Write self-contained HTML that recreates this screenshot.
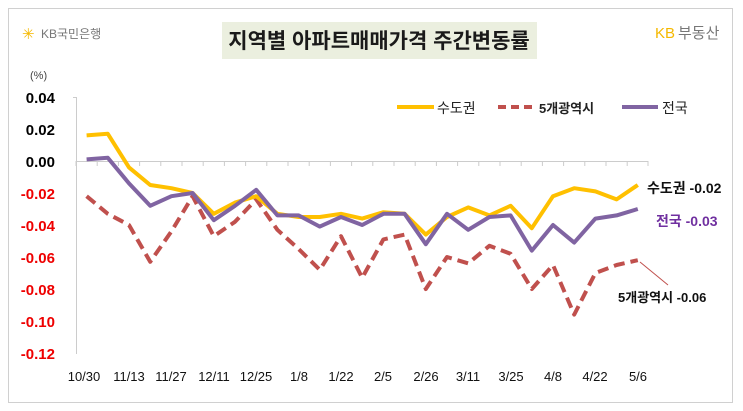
<!DOCTYPE html>
<html><head><meta charset="utf-8"><style>
body{margin:0;background:#fff;}
svg{display:block;font-family:"Liberation Sans","Noto Sans CJK KR",sans-serif;}
</style></head><body>
<svg width="743" height="411" viewBox="0 0 743 411">
<rect x="0" y="0" width="743" height="411" fill="#fff"/>
<rect x="8.5" y="8.5" width="724" height="394" fill="#fff" stroke="#d0d0d0"/>
<rect x="222" y="22" width="315" height="37" fill="#ebefdf"/>
<text x="379" y="48" text-anchor="middle" font-size="21" font-weight="bold" fill="#1a1a1a">지역별 아파트매매가격 주간변동률</text>
<text x="22" y="39" font-size="15" fill="#f5b800">✳</text>
<text x="41" y="38" font-size="12" fill="#777">KB국민은행</text>
<text x="655" y="38" font-size="15" fill="#f5b800">KB</text>
<text x="678" y="38" font-size="15" fill="#777">부동산</text>
<text x="30" y="79" font-size="11" fill="#444">(%)</text>
<g font-size="15" font-weight="bold" text-anchor="end">
<text x="55" y="103">0.04</text>
<text x="55" y="135">0.02</text>
<text x="55" y="167">0.00</text>
<g fill="#e00">
<text x="55" y="199">-0.02</text>
<text x="55" y="231">-0.04</text>
<text x="55" y="263">-0.06</text>
<text x="55" y="295">-0.08</text>
<text x="55" y="327">-0.10</text>
<text x="55" y="359">-0.12</text>
</g></g>
<line x1="76.5" y1="97" x2="76.5" y2="354" stroke="#ccc"/>
<line x1="73" y1="97.5" x2="76" y2="97.5" stroke="#ccc"/>
<line x1="76" y1="161.5" x2="648" y2="161.5" stroke="#ccc"/>
<g stroke="#ccc">
<path d="M76,161v5M97.2,161v5M118.4,161v5M139.6,161v5M160.8,161v5M182,161v5M203.2,161v5M224.4,161v5M245.6,161v5M266.8,161v5M288,161v5M309.2,161v5M330.4,161v5M351.6,161v5M372.8,161v5M394,161v5M415.2,161v5M436.4,161v5M457.6,161v5M478.8,161v5M500,161v5M521.2,161v5M542.4,161v5M563.6,161v5M584.8,161v5M606,161v5M627.2,161v5M648,161v5"/>
</g>
<g transform="translate(86.6,161) scale(21.2,-1600)" fill="none" stroke-linejoin="round">
<polyline vector-effect="non-scaling-stroke" stroke="#c0504d" stroke-width="4" stroke-dasharray="11,6" points="0,-0.022 1,-0.033 2,-0.040 3,-0.063 4,-0.044 5,-0.022 6,-0.047 7,-0.038 8,-0.024 9,-0.043 10,-0.055 11,-0.068 12,-0.047 13,-0.073 14,-0.049 15,-0.046 16,-0.080 17,-0.060 18,-0.064 19,-0.053 20,-0.058 21,-0.080 22,-0.065 23,-0.096 24,-0.070 25,-0.065 26,-0.062"/>
<polyline vector-effect="non-scaling-stroke" stroke="#ffc000" stroke-width="4" points="0,0.016 1,0.017 2,-0.004 3,-0.015 4,-0.017 5,-0.020 6,-0.033 7,-0.026 8,-0.022 9,-0.033 10,-0.035 11,-0.035 12,-0.033 13,-0.036 14,-0.032 15,-0.033 16,-0.046 17,-0.035 18,-0.029 19,-0.034 20,-0.028 21,-0.042 22,-0.022 23,-0.017 24,-0.019 25,-0.024 26,-0.015"/>
<polyline vector-effect="non-scaling-stroke" stroke="#8064a2" stroke-width="4" points="0,0.001 1,0.002 2,-0.014 3,-0.028 4,-0.022 5,-0.020 6,-0.037 7,-0.028 8,-0.018 9,-0.034 10,-0.034 11,-0.041 12,-0.035 13,-0.040 14,-0.033 15,-0.033 16,-0.052 17,-0.033 18,-0.043 19,-0.035 20,-0.034 21,-0.056 22,-0.040 23,-0.051 24,-0.036 25,-0.034 26,-0.030"/>
</g>
<line x1="397" y1="107" x2="434" y2="107" stroke="#ffc000" stroke-width="4"/>
<text x="437" y="113" font-size="14" fill="#222">수도권</text>
<line x1="498" y1="107" x2="534" y2="107" stroke="#c0504d" stroke-width="4" stroke-dasharray="8,5"/>
<text x="539" y="113" font-size="13" font-weight="bold" fill="#222">5개광역시</text>
<line x1="622" y1="107" x2="658" y2="107" stroke="#8064a2" stroke-width="4"/>
<text x="662" y="113" font-size="14" fill="#222">전국</text>
<text x="647" y="193" font-size="14" font-weight="bold" fill="#111">수도권 -0.02</text>
<text x="656" y="226" font-size="14" font-weight="bold" fill="#7030a0">전국 -0.03</text>
<line x1="640" y1="262" x2="668" y2="285" stroke="#c0504d" stroke-width="1"/>
<text x="618" y="302" font-size="13" font-weight="bold" fill="#111">5개광역시 -0.06</text>
<g font-size="13" text-anchor="middle" fill="#111">
<text x="84" y="381">10/30</text>
<text x="129" y="381">11/13</text>
<text x="171" y="381">11/27</text>
<text x="214" y="381">12/11</text>
<text x="256" y="381">12/25</text>
<text x="299" y="381">1/8</text>
<text x="341" y="381">1/22</text>
<text x="383" y="381">2/5</text>
<text x="426" y="381">2/26</text>
<text x="468" y="381">3/11</text>
<text x="511" y="381">3/25</text>
<text x="553" y="381">4/8</text>
<text x="595" y="381">4/22</text>
<text x="638" y="381">5/6</text>
</g>
</svg>
</body></html>
